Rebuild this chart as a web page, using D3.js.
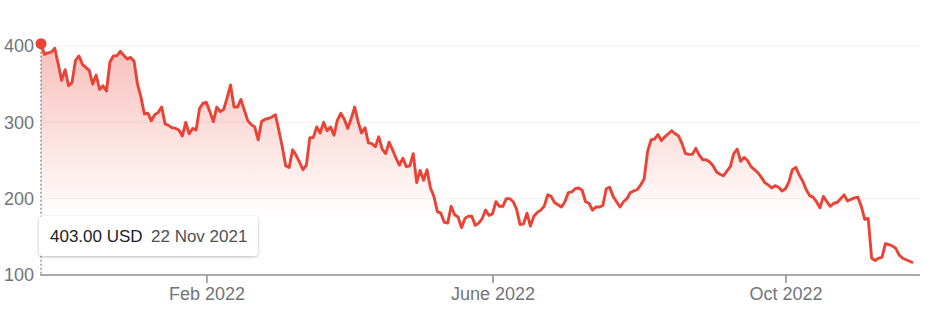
<!DOCTYPE html>
<html lang="en">
  <head>
    <meta charset="utf-8">
    <title>Stock price</title>
    <style>
      body { margin: 0; background: #fff; }
      svg { display: block; font-family: "Liberation Sans", Arial, sans-serif; }
    </style>
  </head>
  <body>
    <script src="https://d3js.org/d3.v7.min.js"></script>
    <script>
      // closing prices, one per trading day (22 Nov 2021 .. 22 Nov 2022)
      const prices = [
        403, 389, 391, 392, 397, 376, 355, 369, 348, 352,
        381, 387, 376, 372, 368, 350, 362, 343, 348, 341,
        379, 387, 387, 393, 388, 383, 385, 380, 350, 333,
        311, 312, 302, 310, 313, 320, 298, 296, 293, 292,
        290, 282, 300, 285, 292, 290, 318, 325, 326, 314,
        301, 320, 314, 317, 332, 349, 320, 320, 330, 316,
        302, 297, 294, 277, 301, 304, 305, 307, 310, 290,
        268, 243, 241, 264, 257, 248, 238, 244, 280, 280,
        294, 286, 300, 289, 294, 283, 303, 312, 304, 292,
        305, 320, 301, 286, 293, 273, 272, 268, 281, 265,
        259, 274, 264, 253, 244, 253, 242, 243, 259, 221,
        237, 224, 238, 214, 203, 183, 181, 169, 168, 190,
        179, 176, 162, 174, 177, 177, 165, 168, 174, 185,
        178, 180, 196, 190, 190, 200, 200, 196, 186, 166,
        167, 181, 164, 177, 182, 185, 190, 205, 203, 195,
        192, 189, 196, 208, 209, 213, 214, 211, 196, 194,
        185, 189, 189, 191, 213, 215, 203, 196, 189, 196,
        200, 208, 210, 212, 218, 226, 262, 277, 278, 284,
        276, 281, 285, 289, 285, 282, 272, 259, 258, 258,
        266, 257, 251, 251, 248, 243, 235, 232, 230, 236,
        242, 259, 265, 249, 254, 250, 242, 238, 234, 228,
        221, 218, 214, 217, 215, 210, 213, 222, 238, 241,
        231, 223, 212, 204, 202, 196, 188, 203, 196, 190,
        194, 195, 200, 205, 197, 199, 201, 202, 190, 173,
        174, 122, 119, 122, 123, 141, 140, 138, 135, 126,
        122, 120, 118, 116
      ];

      // month ticks sit on trading-day index
      const tickIndex = [48, 131, 216];
      const tickLabels = ["Feb 2022", "June 2022", "Oct 2022"];
      const yTicks = [100, 200, 300, 400];

      const tipValue = "403.00 USD";
      const tipDate = "22 Nov 2021";

      const w = 940;
      const h = 313;
      const red = "#ea4335";

      const x = d3.scaleLinear()
        .domain([0, prices.length - 1])
        .range([41, 913]);

      const y = d3.scaleLinear()
        .domain([100, 400])
        .range([275, 46]);

      const svg = d3.select("body")
        .append("svg")
        .attr("width", w)
        .attr("height", h);

      const defs = svg.append("defs");
      const grad = defs.append("linearGradient")
        .attr("id", "fade")
        .attr("gradientUnits", "userSpaceOnUse")
        .attr("x1", 0).attr("x2", 0)
        .attr("y1", y(400)).attr("y2", 218);
      grad.append("stop").attr("offset", 0).attr("stop-color", red).attr("stop-opacity", 0.34);
      grad.append("stop").attr("offset", 1).attr("stop-color", red).attr("stop-opacity", 0);

      const shadow = defs.append("filter")
        .attr("id", "shadow")
        .attr("x", "-10%").attr("y", "-30%")
        .attr("width", "120%").attr("height", "170%");
      shadow.append("feDropShadow")
        .attr("dx", 0).attr("dy", 1)
        .attr("stdDeviation", 1.6)
        .attr("flood-color", "#000")
        .attr("flood-opacity", 0.28);

      // gridlines
      svg.append("g")
        .selectAll("line")
        .data(yTicks.slice(1))
        .join("line")
        .attr("x1", 40).attr("x2", 920)
        .attr("y1", d => y(d)).attr("y2", d => y(d))
        .attr("stroke", "#f1f1f1")
        .attr("stroke-width", 1);

      // area + line
      const area = d3.area()
        .x((d, i) => x(i))
        .y0(y(100))
        .y1(d => y(d));

      const line = d3.line()
        .x((d, i) => x(i))
        .y(d => y(d));

      svg.append("path")
        .datum(prices)
        .attr("d", area)
        .attr("fill", "url(#fade)");

      // y labels
      svg.append("g")
        .selectAll("text")
        .data(yTicks)
        .join("text")
        .attr("x", 34)
        .attr("y", d => y(d))
        .attr("dy", "0.35em")
        .attr("text-anchor", "end")
        .attr("font-size", 18)
        .attr("fill", "#70757a")
        .text(d => d);

      // x axis
      const xAxis = d3.axisBottom(x)
        .tickValues(tickIndex)
        .tickFormat((d, i) => tickLabels[i])
        .tickSize(8)
        .tickPadding(4);

      const gx = svg.append("g")
        .attr("transform", `translate(0, ${y(100)})`)
        .call(xAxis);
      gx.select(".domain").remove();
      gx.insert("line", ":first-child")
        .attr("x1", 40).attr("x2", 920)
        .attr("stroke", "#8a8e93")
        .attr("stroke-width", 1.5);
      gx.selectAll(".tick line")
        .attr("stroke", "#8a8e93")
        .attr("stroke-width", 1.5);
      gx.selectAll(".tick text")
        .attr("font-size", 18)
        .attr("font-family", "Liberation Sans, Arial, sans-serif")
        .attr("fill", "#70757a");

      // hover guide
      svg.append("line")
        .attr("x1", x(0)).attr("x2", x(0))
        .attr("y1", y(prices[0])).attr("y2", y(100))
        .attr("stroke", "#5f6368")
        .attr("stroke-width", 1)
        .attr("stroke-dasharray", "2,2");

      svg.append("path")
        .datum(prices)
        .attr("d", line)
        .attr("fill", "none")
        .attr("stroke", red)
        .attr("stroke-width", 2.9)
        .attr("stroke-linejoin", "round");

      svg.append("circle")
        .attr("cx", x(0))
        .attr("cy", y(prices[0]))
        .attr("r", 5.5)
        .attr("fill", red);

      // tooltip
      const tip = svg.append("g").attr("transform", "translate(39, 216)");
      tip.append("rect")
        .attr("width", 219)
        .attr("height", 40)
        .attr("rx", 4)
        .attr("fill", "#fff")
        .attr("filter", "url(#shadow)");
      tip.append("text")
        .attr("x", 11).attr("y", 26)
        .attr("font-size", 17)
        .attr("fill", "#202124")
        .text(tipValue);
      tip.append("text")
        .attr("x", 112).attr("y", 26)
        .attr("font-size", 17)
        .attr("fill", "#4d5156")
        .text(tipDate);
    </script>
  </body>
</html>
